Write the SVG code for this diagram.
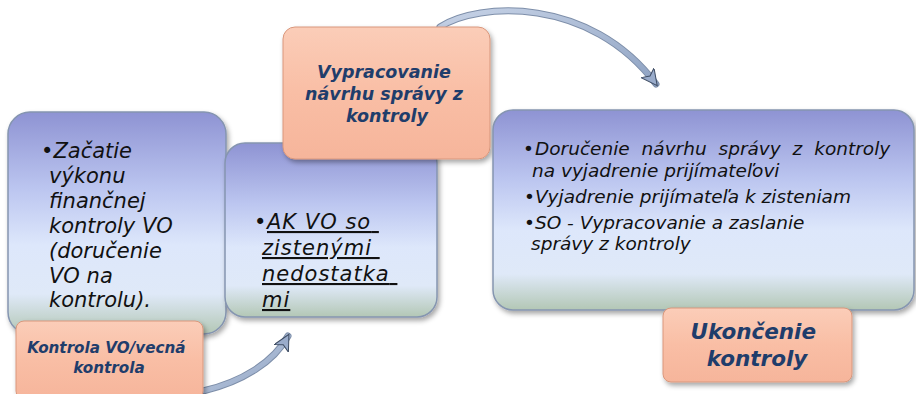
<svg xmlns="http://www.w3.org/2000/svg" width="916" height="394" viewBox="0 0 916 394">
<defs>
<linearGradient id="blueG" x1="0" y1="0" x2="0" y2="1">
<stop offset="0" stop-color="#8e93d3"/>
<stop offset="0.35" stop-color="#bcc6f0"/>
<stop offset="0.6" stop-color="#dde7fb"/>
<stop offset="0.82" stop-color="#dfe9f8"/>
<stop offset="1" stop-color="#b3c7b5"/>
</linearGradient>
<linearGradient id="pinkG" x1="0" y1="0" x2="0" y2="1">
<stop offset="0" stop-color="#fbcdb8"/>
<stop offset="0.5" stop-color="#f9bea5"/>
<stop offset="1" stop-color="#f6b59b"/>
</linearGradient>
<linearGradient id="arrowG" x1="0" y1="0" x2="1" y2="1">
<stop offset="0" stop-color="#c6d2e6"/>
<stop offset="1" stop-color="#8ea2c2"/>
</linearGradient>
<filter id="sh" x="-10%" y="-10%" width="125%" height="125%">
<feDropShadow dx="2" dy="3" stdDeviation="2.5" flood-color="#000" flood-opacity="0.35"/>
</filter>
<marker id="ah" markerUnits="userSpaceOnUse" markerWidth="22" markerHeight="22" refX="14" refY="8" orient="auto">
<path d="M0,0 L16,8 L0,16 L4,8 Z" fill="#9aaccb" stroke="#3e4c63" stroke-width="1"/>
</marker>
<style>
.blue{fill:url(#blueG);stroke:#8595b0;stroke-width:1.5;filter:url(#sh)}
.pink{fill:url(#pinkG);stroke:#d9977c;stroke-width:1;filter:url(#sh)}
.btxt{font-family:"DejaVu Sans","Liberation Sans",sans-serif;font-style:italic;fill:#111}
.ptxt{font-family:"DejaVu Sans","Liberation Sans",sans-serif;font-style:italic;font-weight:bold;fill:#1f3d6b;text-anchor:middle}
.conn{fill:none;stroke:url(#arrowG);stroke-width:5;stroke-linecap:round}
.connEdge{fill:none;stroke:#7d8ea9;stroke-width:7;stroke-linecap:round}
</style>
</defs>
<g id="connectors">
<path class="connEdge" d="M440,27 C478,2 590,-4 656,84"/>
<path class="conn" d="M440,27 C478,2 590,-4 656,84" marker-end="url(#ah)"/>
<path class="connEdge" d="M203,391 C242,382 274,362 288,336"/>
<path class="conn" d="M203,391 C242,382 274,362 288,336" marker-end="url(#ah)"/>
</g>
<g id="node-zacatie">
<rect class="blue" x="8" y="112" width="218" height="222" rx="22"/>
<text class="btxt" font-size="21">
<tspan x="41" y="158">•Začatie</tspan>
<tspan x="49" y="183">výkonu</tspan>
<tspan x="49" y="208">finančnej</tspan>
<tspan x="49" y="233">kontroly VO</tspan>
<tspan x="49" y="258">(doručenie</tspan>
<tspan x="49" y="283">VO na</tspan>
<tspan x="49" y="307">kontrolu).</tspan>
</text>
</g>
<g id="node-ak-vo">
<rect class="blue" x="225" y="143" width="212" height="174" rx="20"/>
<text class="btxt" font-size="21">
<tspan x="254" y="229">•</tspan>
</text>
<text class="btxt" font-size="21" text-decoration="underline" letter-spacing="1">
<tspan x="267" y="229">AK VO so</tspan>
<tspan x="262" y="255">zistenými</tspan>
<tspan x="262" y="281">nedostatka</tspan>
<tspan x="262" y="307">mi</tspan>
</text>
</g>
<g id="node-vypracovanie">
<rect class="pink" x="283" y="27" width="207" height="132" rx="12"/>
<text class="ptxt" font-size="17.5">
<tspan x="387" y="78">Vypracovanie</tspan>
<tspan x="387" y="100">návrhu správy z</tspan>
<tspan x="387" y="122">kontroly</tspan>
</text>
</g>
<g id="node-dorucenie">
<rect class="blue" x="493" y="110" width="421" height="200" rx="20"/>
<text class="btxt" font-size="18.5">
<tspan x="523" y="155">•</tspan>
<tspan x="535" y="155" word-spacing="6">Doručenie návrhu správy z kontroly</tspan>
<tspan x="532" y="177">na vyjadrenie prijímateľovi</tspan>
<tspan x="524" y="203">•Vyjadrenie prijímateľa k zisteniam</tspan>
<tspan x="524" y="229">•SO - Vypracovanie a zaslanie</tspan>
<tspan x="531" y="250">správy z kontroly</tspan>
</text>
</g>
<g id="node-ukoncenie">
<rect class="pink" x="663" y="308" width="189" height="74" rx="8"/>
<text class="ptxt" font-size="21.5">
<tspan x="757" y="339">Ukončenie</tspan>
<tspan x="757" y="366">kontroly</tspan>
</text>
</g>
<g id="node-kontrola">
<rect class="pink" x="16" y="321" width="187" height="78" rx="8"/>
<text class="ptxt" font-size="15.2">
<tspan x="109" y="353">Kontrola VO/vecná</tspan>
<tspan x="109" y="373">kontrola</tspan>
</text>
</g>
</svg>
